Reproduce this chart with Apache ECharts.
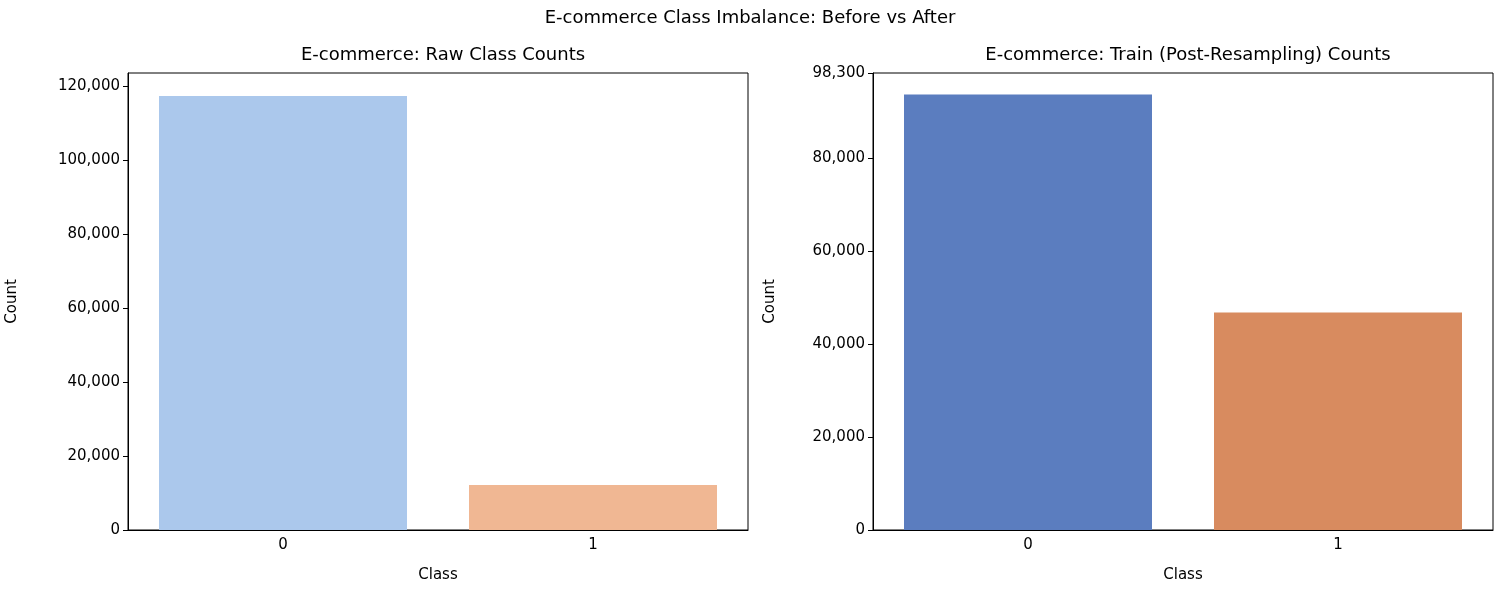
<!DOCTYPE html>
<html><head><meta charset="utf-8">
<script src="https://cdn.jsdelivr.net/npm/echarts@6/dist/echarts.min.js"></script>
<style>html,body{margin:0;background:#fff}#c{width:1500px;height:600px}</style>
</head><body><div id="c"></div>
<script>
const categories = ['0', '1'];
const rawCounts = [117300, 12150];
const trainCounts = [93700, 46800];
const rawColors = ['#abc8ec', '#f0b793'];
const trainColors = ['#5b7dbf', '#d88b5f'];
const F = 'DejaVu Sans';
const chart = echarts.init(document.getElementById('c'));
function xAxis(i){return {type:'category',gridIndex:i,data:categories,name:'Class',nameLocation:'middle',nameGap:38,
 nameTextStyle:{fontFamily:F,fontSize:15,color:'#000'},axisTick:{alignWithLabel:true,length:5,lineStyle:{color:'#000'}},
 axisLine:{lineStyle:{color:'#000'}},axisLabel:{fontFamily:F,fontSize:15,color:'#000',margin:8}};}
function yAxis(i,max){return {type:'value',gridIndex:i,min:0,max:max,interval:20000,name:'Count',nameLocation:'middle',
 nameGap:i?95:108,nameTextStyle:{fontFamily:F,fontSize:15,color:'#000'},splitLine:{show:false},
 axisLine:{show:true,lineStyle:{color:'#000'}},axisTick:{show:true,length:5,lineStyle:{color:'#000'}},
 axisLabel:{fontFamily:F,fontSize:15,color:'#000',margin:8}};}
chart.setOption({
 animation:false,
 title:[{text:'E-commerce Class Imbalance: Before vs After',left:'center',top:4,textStyle:{fontFamily:F,fontSize:18,fontWeight:'normal',color:'#000'}},
  {text:'E-commerce: Raw Class Counts',left:438,textAlign:'center',top:41,textStyle:{fontFamily:F,fontSize:18,fontWeight:'normal',color:'#000'}},
  {text:'E-commerce: Train (Post-Resampling) Counts',left:1183,textAlign:'center',top:41,textStyle:{fontFamily:F,fontSize:18,fontWeight:'normal',color:'#000'}}],
 grid:[{left:128,width:620,top:73,height:457,show:true,borderColor:'#000',borderWidth:1},
       {left:873,width:620,top:73,height:457,show:true,borderColor:'#000',borderWidth:1}],
 xAxis:[xAxis(0),xAxis(1)],
 yAxis:[yAxis(0,123500),yAxis(1,98300)],
 series:[
  {type:'bar',xAxisIndex:0,yAxisIndex:0,barWidth:'80%',data:rawCounts.map((v,i)=>({value:v,itemStyle:{color:rawColors[i]}}))},
  {type:'bar',xAxisIndex:1,yAxisIndex:1,barWidth:'80%',data:trainCounts.map((v,i)=>({value:v,itemStyle:{color:trainColors[i]}}))}
 ]
});
</script></body></html>
